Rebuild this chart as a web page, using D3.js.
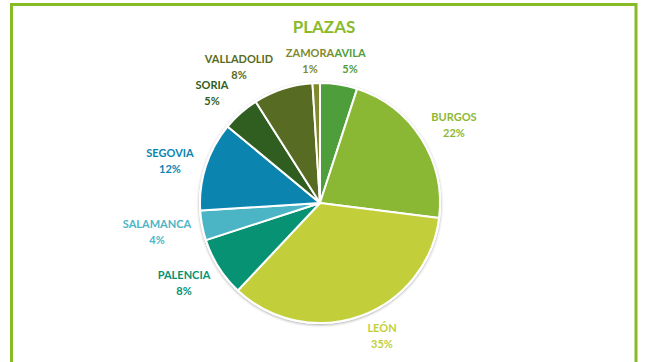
<!DOCTYPE html>
<html>
<head>
<meta charset="utf-8">
<script src="https://cdn.jsdelivr.net/npm/d3@7"></script>
<style>
  html, body { margin: 0; padding: 0; background: #fff; }
  svg { display: block; }
  text { font-family: Lato, "Open Sans", sans-serif; font-weight: 700; }
</style>
</head>
<body>
<svg id="chart" width="651" height="362"></svg>
<script>
// Plazas por provincia (porcentaje del total)
const provincias = ["AVILA", "BURGOS", "LEÓN", "PALENCIA", "SALAMANCA", "SEGOVIA", "SORIA", "VALLADOLID", "ZAMORA"];
const porcentajes = [5, 22, 35, 8, 4, 12, 5, 8, 1];
const colores = ["#4f9e3c", "#8bb834", "#c2cf3a", "#069273", "#4cb5c5", "#0c84b0", "#2f5e20", "#586b22", "#808a2c"];
const titulo = "PLAZAS";

const W = 651, H = 362;
const cx = 320, cy = 203, R = 120;

const svg = d3.select("#chart");

// drop shadow for the pie
const defs = svg.append("defs");
const f = defs.append("filter").attr("id", "sombra").attr("x", "-20%").attr("y", "-20%").attr("width", "140%").attr("height", "140%");
f.append("feGaussianBlur").attr("in", "SourceAlpha").attr("stdDeviation", 1.6);
f.append("feOffset").attr("dx", 0).attr("dy", 1).attr("result", "b");
f.append("feComponentTransfer").append("feFuncA").attr("type", "linear").attr("slope", 0.35);
const m = f.append("feMerge");
m.append("feMergeNode");
m.append("feMergeNode").attr("in", "SourceGraphic");

// frame (open at the bottom)
svg.append("path")
  .attr("d", `M11.5,${H + 5} V4.5 H636 V${H + 5}`)
  .attr("fill", "none")
  .attr("stroke", "#86bc25")
  .attr("stroke-width", 3);

svg.append("text")
  .attr("x", 324).attr("y", 33)
  .attr("text-anchor", "middle")
  .attr("font-size", 17)
  .attr("fill", "#8aba2c")
  .text(titulo);

const datos = provincias.map((p, i) => ({ nombre: p, valor: porcentajes[i], color: colores[i] }));
const pie = d3.pie().value(d => d.valor).sort(null);
const arcos = pie(datos);
const arc = d3.arc().innerRadius(0).outerRadius(R);

const g = svg.append("g").attr("transform", `translate(${cx},${cy})`);
g.append("circle").attr("r", R + 1).attr("fill", "#fff").attr("filter", "url(#sombra)");
g.selectAll("path.slice")
  .data(arcos)
  .join("path")
  .attr("class", "slice")
  .attr("d", arc)
  .attr("fill", d => d.data.color)
  .attr("stroke", "#fff")
  .attr("stroke-width", 2)
  .attr("stroke-linejoin", "round");

// label block centres, relative to the pie centre
const posEtiqueta = {
  "AVILA": [30, -142], "BURGOS": [134, -78], "LEÓN": [62, 133], "PALENCIA": [-136, 80],
  "SALAMANCA": [-163, 29], "SEGOVIA": [-150, -42], "SORIA": [-108, -110],
  "VALLADOLID": [-81, -136], "ZAMORA": [-10, -142]
};
const lbl = g.append("g");
arcos.forEach(d => {
  const p = posEtiqueta[d.data.nombre];
  const t = lbl.append("text")
    .attr("text-anchor", "middle")
    .attr("font-size", 11)
    .attr("fill", d.data.color)
    .attr("transform", `translate(${p[0]},${p[1]})`);
  t.append("tspan").attr("x", 0).attr("y", -4).text(d.data.nombre);
  t.append("tspan").attr("x", 0).attr("y", 12).text(d.data.valor + "%");
});
</script>
</body>
</html>
